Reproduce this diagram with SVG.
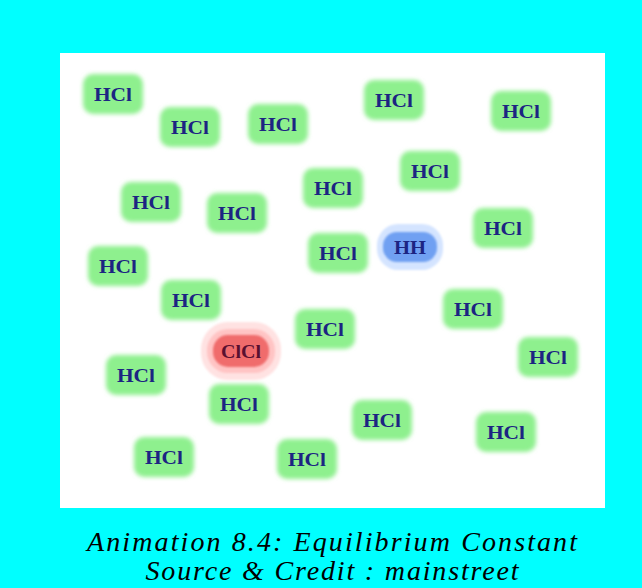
<svg xmlns="http://www.w3.org/2000/svg" width="642" height="588" viewBox="0 0 642 588">
<defs>
<filter id="soft" x="-30%" y="-30%" width="160%" height="160%"><feGaussianBlur stdDeviation="2"/></filter>
<filter id="soft2" x="-30%" y="-30%" width="160%" height="160%"><feGaussianBlur stdDeviation="1.3"/></filter>
</defs>
<style>
.hcl rect{fill:#8ef08e;filter:url(#soft)}
.hcl text,.mol text{font-family:"Liberation Serif",serif;font-weight:bold;font-size:19px;fill:#1c2482;text-anchor:middle}
.cap{font-family:"Liberation Serif",serif;font-style:italic;font-size:28px;fill:#000;text-anchor:middle}
</style>
<rect x="0" y="0" width="642" height="588" fill="#00ffff"/>
<rect x="60" y="53" width="545" height="455" fill="#ffffff"/>
<g id="molecules">
<g id="hcl1" class="hcl" transform="translate(113,94)"><rect x="-30" y="-20" width="60" height="40" rx="10"/><text y="7" textLength="38" lengthAdjust="spacingAndGlyphs">HCl</text></g>
<g id="hcl2" class="hcl" transform="translate(190,127)"><rect x="-30" y="-20" width="60" height="40" rx="10"/><text y="7" textLength="38" lengthAdjust="spacingAndGlyphs">HCl</text></g>
<g id="hcl3" class="hcl" transform="translate(278,124)"><rect x="-30" y="-20" width="60" height="40" rx="10"/><text y="7" textLength="38" lengthAdjust="spacingAndGlyphs">HCl</text></g>
<g id="hcl4" class="hcl" transform="translate(394,100)"><rect x="-30" y="-20" width="60" height="40" rx="10"/><text y="7" textLength="38" lengthAdjust="spacingAndGlyphs">HCl</text></g>
<g id="hcl5" class="hcl" transform="translate(521,111)"><rect x="-30" y="-20" width="60" height="40" rx="10"/><text y="7" textLength="38" lengthAdjust="spacingAndGlyphs">HCl</text></g>
<g id="hcl6" class="hcl" transform="translate(430,171)"><rect x="-30" y="-20" width="60" height="40" rx="10"/><text y="7" textLength="38" lengthAdjust="spacingAndGlyphs">HCl</text></g>
<g id="hcl7" class="hcl" transform="translate(333,188)"><rect x="-30" y="-20" width="60" height="40" rx="10"/><text y="7" textLength="38" lengthAdjust="spacingAndGlyphs">HCl</text></g>
<g id="hcl8" class="hcl" transform="translate(151,202)"><rect x="-30" y="-20" width="60" height="40" rx="10"/><text y="7" textLength="38" lengthAdjust="spacingAndGlyphs">HCl</text></g>
<g id="hcl9" class="hcl" transform="translate(237,213)"><rect x="-30" y="-20" width="60" height="40" rx="10"/><text y="7" textLength="38" lengthAdjust="spacingAndGlyphs">HCl</text></g>
<g id="hcl10" class="hcl" transform="translate(503,228)"><rect x="-30" y="-20" width="60" height="40" rx="10"/><text y="7" textLength="38" lengthAdjust="spacingAndGlyphs">HCl</text></g>
<g id="hcl11" class="hcl" transform="translate(338,253)"><rect x="-30" y="-20" width="60" height="40" rx="10"/><text y="7" textLength="38" lengthAdjust="spacingAndGlyphs">HCl</text></g>
<g id="hcl12" class="hcl" transform="translate(118,266)"><rect x="-30" y="-20" width="60" height="40" rx="10"/><text y="7" textLength="38" lengthAdjust="spacingAndGlyphs">HCl</text></g>
<g id="hcl13" class="hcl" transform="translate(191,300)"><rect x="-30" y="-20" width="60" height="40" rx="10"/><text y="7" textLength="38" lengthAdjust="spacingAndGlyphs">HCl</text></g>
<g id="hcl14" class="hcl" transform="translate(473,309)"><rect x="-30" y="-20" width="60" height="40" rx="10"/><text y="7" textLength="38" lengthAdjust="spacingAndGlyphs">HCl</text></g>
<g id="hcl15" class="hcl" transform="translate(325,329)"><rect x="-30" y="-20" width="60" height="40" rx="10"/><text y="7" textLength="38" lengthAdjust="spacingAndGlyphs">HCl</text></g>
<g id="hcl16" class="hcl" transform="translate(548,357)"><rect x="-30" y="-20" width="60" height="40" rx="10"/><text y="7" textLength="38" lengthAdjust="spacingAndGlyphs">HCl</text></g>
<g id="hcl17" class="hcl" transform="translate(136,375)"><rect x="-30" y="-20" width="60" height="40" rx="10"/><text y="7" textLength="38" lengthAdjust="spacingAndGlyphs">HCl</text></g>
<g id="hcl18" class="hcl" transform="translate(239,404)"><rect x="-30" y="-20" width="60" height="40" rx="10"/><text y="7" textLength="38" lengthAdjust="spacingAndGlyphs">HCl</text></g>
<g id="hcl19" class="hcl" transform="translate(382,420)"><rect x="-30" y="-20" width="60" height="40" rx="10"/><text y="7" textLength="38" lengthAdjust="spacingAndGlyphs">HCl</text></g>
<g id="hcl20" class="hcl" transform="translate(506,432)"><rect x="-30" y="-20" width="60" height="40" rx="10"/><text y="7" textLength="38" lengthAdjust="spacingAndGlyphs">HCl</text></g>
<g id="hcl21" class="hcl" transform="translate(164,457)"><rect x="-30" y="-20" width="60" height="40" rx="10"/><text y="7" textLength="38" lengthAdjust="spacingAndGlyphs">HCl</text></g>
<g id="hcl22" class="hcl" transform="translate(307,459)"><rect x="-30" y="-20" width="60" height="40" rx="10"/><text y="7" textLength="38" lengthAdjust="spacingAndGlyphs">HCl</text></g>
<g id="hh" class="mol" transform="translate(410,247)">
<rect x="-33" y="-23" width="66" height="46" rx="21" fill="#d4e4ff" filter="url(#soft2)"/>
<rect x="-27" y="-15" width="54" height="30" rx="14" fill="#6fa0f2" filter="url(#soft2)"/>
<text y="7" textLength="32" lengthAdjust="spacingAndGlyphs">HH</text></g>
<g id="clcl" class="mol" transform="translate(241,352)">
<rect x="-40" y="-30" width="80" height="58" rx="27" fill="#ffe2e2" filter="url(#soft2)"/>
<rect x="-34" y="-23" width="68" height="44" rx="21" fill="#ffc4c4" filter="url(#soft2)"/>
<rect x="-28" y="-17" width="56" height="32" rx="15" fill="#f06c6c" filter="url(#soft2)"/>
<text y="6" font-size="16" style="fill:#5a1030" textLength="40" lengthAdjust="spacingAndGlyphs">ClCl</text></g>
</g>
<g id="connectors"/>
<text class="cap" x="332" y="551" textLength="490" lengthAdjust="spacing">Animation 8.4: Equilibrium Constant</text>
<text class="cap" x="332" y="580" textLength="373" lengthAdjust="spacing">Source &amp; Credit : mainstreet</text>
</svg>
